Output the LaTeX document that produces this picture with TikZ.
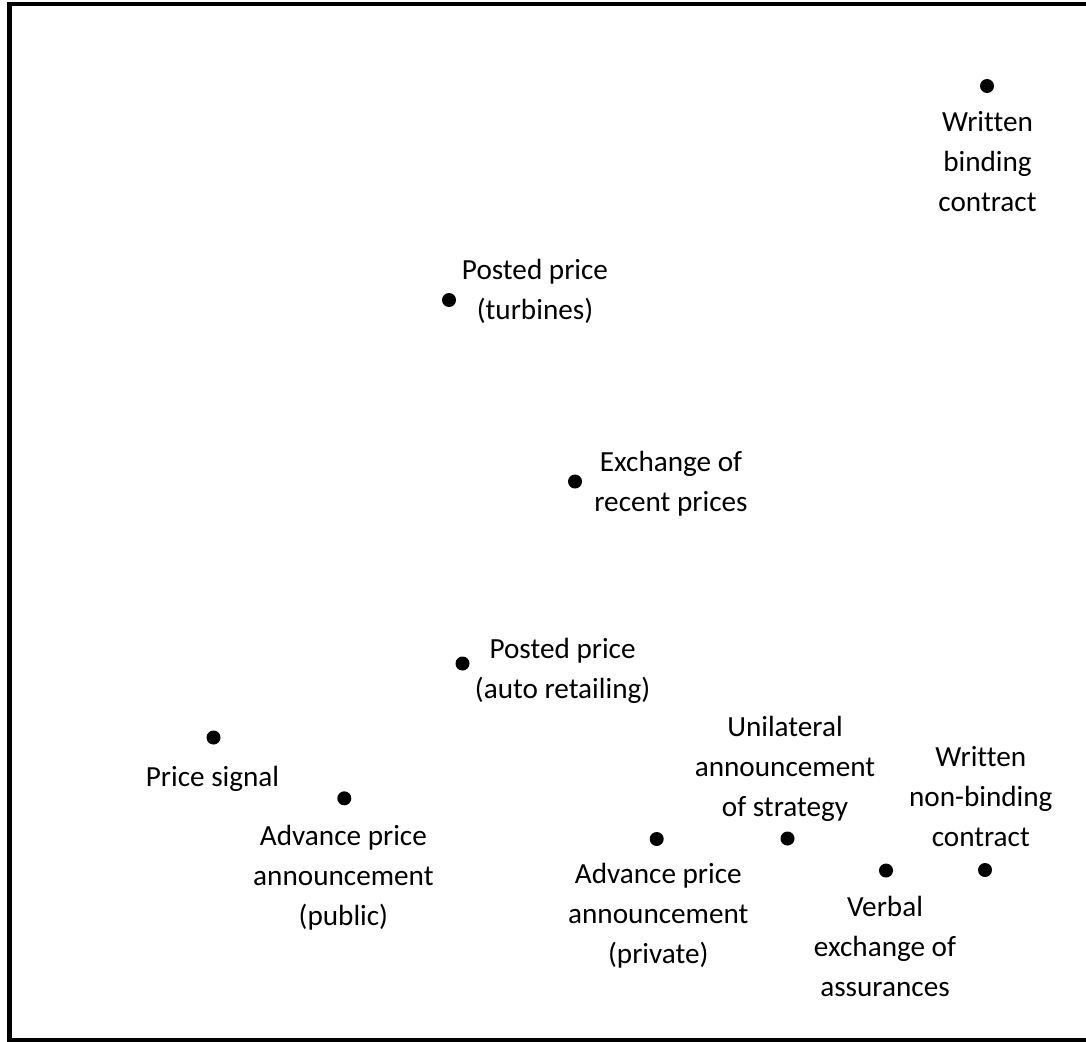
\documentclass[tikz,border=0pt]{standalone}
\usepackage{fontspec}
\setmainfont[Ligatures=NoCommon]{Carlito}
\newcommand\lbltext[1]{\begin{tabular}[t]{@{}c@{}}#1\end{tabular}}
\begin{document}
\begin{tikzpicture}[x=1pt,y=-1pt,
  dotmark/.style={circle,fill=black,inner sep=0pt,minimum size=14pt},
  lbl/.style={anchor=base,inner sep=0pt,font=\fontsize{29.2}{40}\selectfont}]
\useasboundingbox (0,0) rectangle (1086,1041);
\draw[line width=4.5pt] (9.5,4) rectangle (1095,1040.5);
% dots
\node[dotmark] (wbc) at (987,86) {};
\node[dotmark] (ppt) at (449,300) {};
\node[dotmark] (erp) at (575,481.5) {};
\node[dotmark] (ppa) at (462.5,663.5) {};
\node[dotmark] (ps) at (213.5,737.5) {};
\node[dotmark] (apapub) at (344.3,798.3) {};
\node[dotmark] (apapriv) at (656.7,839) {};
\node[dotmark] (uas) at (787.5,838.5) {};
\node[dotmark] (vea) at (886,870.5) {};
\node[dotmark] (wnb) at (985,870) {};
% labels
\node[lbl] (wbcl) at (987.5,131) {\lbltext{Written\\binding\\contract}};
\node[lbl] (pptl) at (535,279.3) {\lbltext{Posted price\\(turbines)}};
\node[lbl] (erpl) at (671,471.7) {\lbltext{Exchange of\\recent prices}};
\node[lbl] (ppal) at (562.6,658.3) {\lbltext{Posted price\\(auto retailing)}};
\node[lbl] (psl) at (212.5,786) {\lbltext{Price signal}};
\node[lbl] (apapubl) at (343.4,845) {\lbltext{Advance price\\announcement\\(public)}};
\node[lbl] (apaprivl) at (658.3,883.3) {\lbltext{Advance price\\announcement\\(private)}};
\node[lbl] (uasl) at (785,736.7) {\lbltext{Unilateral\\announcement\\of strategy}};
\node[lbl] (veal) at (885,916.7) {\lbltext{Verbal\\exchange of\\assurances}};
\node[lbl] (wnbl) at (980.8,766.7) {\lbltext{Written\\non-binding\\contract}};
\end{tikzpicture}
\end{document}
